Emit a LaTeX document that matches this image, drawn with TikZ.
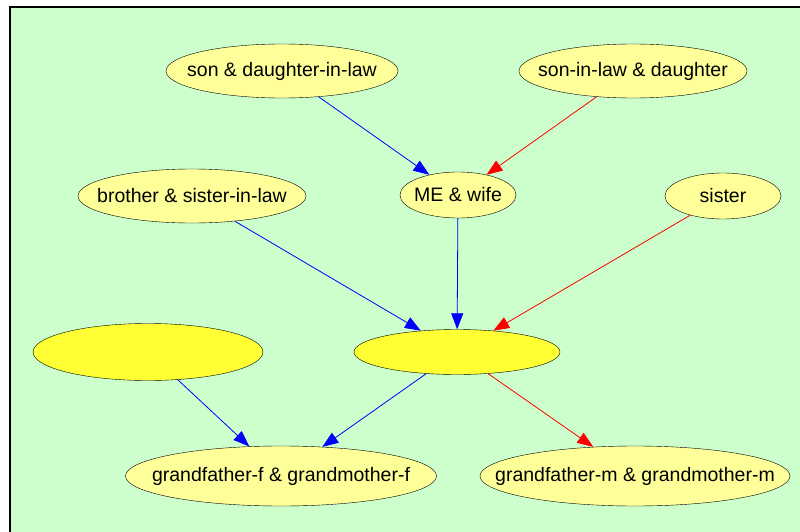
\documentclass[tikz,border=0pt]{standalone}
\usepackage{fontspec}
\setmainfont{Liberation Sans}
\usepackage{tikz}
\usetikzlibrary{shapes.geometric,arrows.meta}

\definecolor{bggreen}{HTML}{CCFFCC}
\definecolor{paleyellow}{HTML}{FFFF99}
\definecolor{brightyellow}{HTML}{FFFF33}

\begin{document}
\begin{tikzpicture}[x=1pt, y=-1pt,
pair_style/.style={ellipse,draw=black,fill=paleyellow,inner sep=0pt,font=\fontsize{19.5}{23}\selectfont},
blank_style/.style={ellipse,draw=black,fill=brightyellow,inner sep=0pt},
blue_edge/.style={color=blue, thick, -{Triangle[length=16pt,width=12pt]}},
red_edge/.style={color=red, thick, -{Triangle[length=16pt,width=12pt]}}]
\clip (0,0) rectangle (800,532);
\fill[white] (0,0) rectangle (800,532);
\draw[fill=bggreen, line width=1.2pt] (10,7) rectangle (820,550);

\node[pair_style, minimum width=232pt, minimum height=54pt] (sondil) at (282,71) {\makebox[0pt]{son \& daughter-in-law}};
\node[pair_style, minimum width=228pt, minimum height=54pt] (sildau) at (633,71) {\makebox[0pt]{son-in-law \& daughter}};
\node[pair_style, minimum width=228pt, minimum height=54pt] (brother) at (192,196) {\makebox[0pt]{brother \& sister-in-law}};
\node[pair_style, minimum width=116pt, minimum height=46pt] (me) at (458,195) {\makebox[0pt]{ME \& wife}};
\node[pair_style, minimum width=116pt, minimum height=46pt] (sister) at (723,196) {\makebox[0pt]{sister}};
\node[blank_style, minimum width=230pt, minimum height=57pt] (blankl) at (148,352) {};
\node[blank_style, minimum width=206pt, minimum height=45pt] (blankm) at (457,352) {};
\node[pair_style, minimum width=311pt, minimum height=60pt] (gff) at (281,476) {\makebox[0pt]{grandfather-f \& grandmother-f}};
\node[pair_style, minimum width=310pt, minimum height=60pt] (gfm) at (635,476) {\makebox[0pt]{grandfather-m \& grandmother-m}};

\draw[blue_edge]  (sondil) edge (me);
\draw[red_edge]   (sildau) edge (me);
\draw[blue_edge]  (brother) edge (blankm);
\draw[blue_edge]  (me) edge (blankm);
\draw[red_edge]   (sister) edge (blankm);
\draw[blue_edge]  (blankl) edge (gff);
\draw[blue_edge]  (blankm) edge (gff);
\draw[red_edge]   (blankm) edge (gfm);

\end{tikzpicture}
\end{document}
